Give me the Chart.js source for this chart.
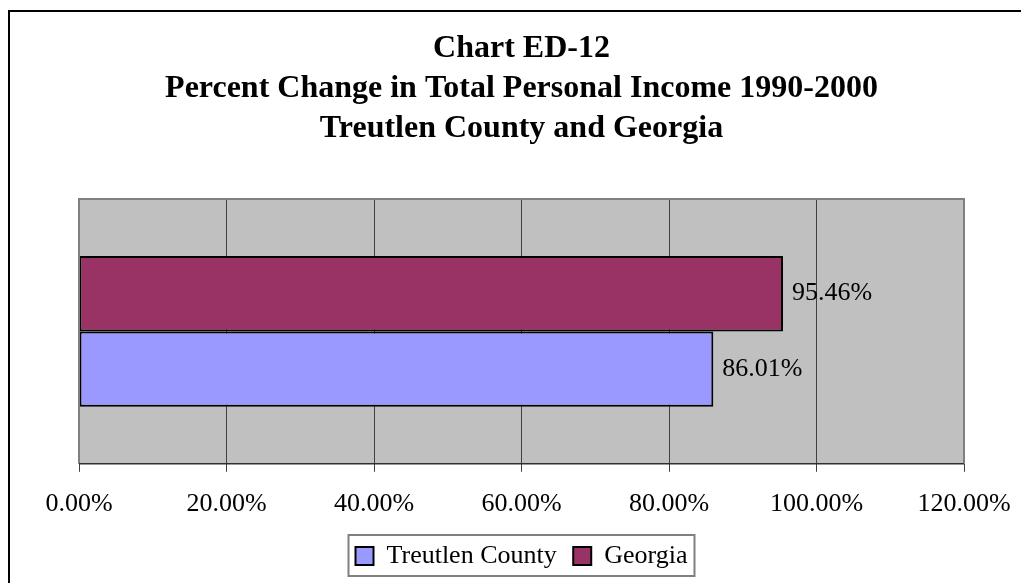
<!DOCTYPE html>
<html>
<head>
<meta charset="utf-8">
<script src="https://cdn.jsdelivr.net/npm/chart.js@4.4.1/dist/chart.umd.min.js"></script>
<style>
    html, body { margin: 0; padding: 0; background: #fff; }
    #wrap { width: 1021px; height: 583px; }
</style>
</head>
<body>
<div id="wrap"><canvas id="myChart" width="1021" height="583"></canvas></div>
<script>
const categories = ['Percent Change'];
const seriesNames = ['Georgia', 'Treutlen County'];
const georgiaValues = [95.46];
const treutlenValues = [86.01];
const xTicks = [0, 20, 40, 60, 80, 100, 120];
const titleLines = [
    'Chart ED-12',
    'Percent Change in Total Personal Income 1990-2000',
    'Treutlen County and Georgia'
];

const serif = '"Liberation Serif", "Times New Roman", serif';

// white page + black frame that runs off the right and bottom edges
const framePlugin = {
    id: 'frame',
    beforeDraw(chart) {
        const c = chart.ctx;
        c.save();
        c.fillStyle = '#fff';
        c.fillRect(0, 0, chart.width, chart.height);
        c.strokeStyle = '#000';
        c.lineWidth = 2;
        c.strokeRect(9, 11, 2000, 2000);
        c.restore();
    }
};

// grey plot area with grey frame, dark category axis at bottom
const plotAreaPlugin = {
    id: 'plotArea',
    beforeDraw(chart) {
        const a = chart.chartArea;
        const c = chart.ctx;
        c.save();
        c.fillStyle = '#C0C0C0';
        c.fillRect(a.left, a.top, a.right - a.left, a.bottom - a.top);
        c.restore();
    },
    afterDraw(chart) {
        const a = chart.chartArea;
        const c = chart.ctx;
        c.save();
        c.strokeStyle = '#808080';
        c.lineWidth = 2;
        c.beginPath();
        c.moveTo(a.left, a.bottom);
        c.lineTo(a.left, a.top);
        c.lineTo(a.right, a.top);
        c.lineTo(a.right, a.bottom);
        c.stroke();
        c.strokeStyle = '#303030';
        c.lineWidth = 1.5;
        c.beginPath();
        c.moveTo(a.left, a.bottom);
        c.lineTo(a.right, a.bottom);
        c.stroke();
        c.restore();
    }
};

// value labels to the right of each bar
const valueLabels = {
    id: 'valueLabels',
    afterDatasetsDraw(chart) {
        const c = chart.ctx;
        c.save();
        c.font = '26px ' + serif;
        c.fillStyle = '#000';
        c.textBaseline = 'middle';
        c.textAlign = 'left';
        chart.data.datasets.forEach((ds, i) => {
            chart.getDatasetMeta(i).data.forEach((bar, j) => {
                c.fillText(ds.data[j].toFixed(2) + '%', bar.x + 9, bar.y);
            });
        });
        c.restore();
    }
};

// box around the legend like the original
const legendBox = {
    id: 'legendBox',
    afterDraw(chart) {
        const boxes = chart.legend.legendHitBoxes;
        if (!boxes || !boxes.length) return;
        let l = Infinity, r = -Infinity, t = Infinity, b = -Infinity;
        boxes.forEach((h) => {
            l = Math.min(l, h.left);
            r = Math.max(r, h.left + h.width);
            t = Math.min(t, h.top);
            b = Math.max(b, h.top + h.height);
        });
        const c = chart.ctx;
        c.save();
        c.strokeStyle = '#808080';
        c.lineWidth = 2;
        c.strokeRect(l - 7, t - 8, r - l + 14, b - t + 15);
        c.restore();
    }
};

const ctx = document.getElementById('myChart');

new Chart(ctx, {
    type: 'bar',
    data: {
        labels: categories,
        datasets: [
            {
                label: seriesNames[0],
                data: georgiaValues,
                backgroundColor: '#993366',
                borderColor: '#000',
                borderWidth: 2,
                borderSkipped: false
            },
            {
                label: seriesNames[1],
                data: treutlenValues,
                backgroundColor: '#9999FF',
                borderColor: '#000',
                borderWidth: 2,
                borderSkipped: false
            }
        ]
    },
    options: {
        indexAxis: 'y',
        responsive: false,
        animation: false,
        barPercentage: 1,
        categoryPercentage: 0.57,
        layout: {
            padding: { left: 79, right: 57, top: 0, bottom: 4 }
        },
        plugins: {
            title: {
                display: true,
                text: titleLines,
                color: '#000',
                font: { family: serif, size: 32, weight: 'bold', lineHeight: 1.25 },
                padding: { top: 29, bottom: 50 }
            },
            legend: {
                position: 'bottom',
                reverse: true,
                labels: {
                    color: '#000',
                    font: { family: serif, size: 26 },
                    boxWidth: 18,
                    boxHeight: 18,
                    padding: 10,
                    generateLabels: (chart) => {
                        const items = Chart.defaults.plugins.legend.labels.generateLabels(chart);
                        // a little extra room after the first entry
                        items.forEach((it) => {
                            if (it.text === 'Treutlen County') it.text += ' ';
                        });
                        return items;
                    }
                }
            },
            tooltip: { enabled: false }
        },
        scales: {
            y: {
                display: false
            },
            x: {
                min: 0,
                max: 120,
                afterBuildTicks: (axis) => {
                    axis.ticks = xTicks.map((v) => ({ value: v }));
                },
                afterFit: (axis) => {
                    // let the layout padding alone decide where the plot ends
                    axis.paddingLeft = 0;
                    axis.paddingRight = 0;
                    axis.height -= 4;
                },
                grid: {
                    color: (c) => (c.index === 0 || c.index === xTicks.length - 1) ? 'rgba(0,0,0,0)' : '#404040',
                    tickColor: '#404040',
                    tickLength: 8,
                    lineWidth: 1
                },
                border: { display: false },
                ticks: {
                    color: '#000',
                    font: { family: serif, size: 26 },
                    padding: 17,
                    maxRotation: 0,
                    callback: (v) => Number(v).toFixed(2) + '%'
                }
            }
        }
    },
    plugins: [framePlugin, plotAreaPlugin, valueLabels, legendBox]
});
</script>
</body>
</html>
